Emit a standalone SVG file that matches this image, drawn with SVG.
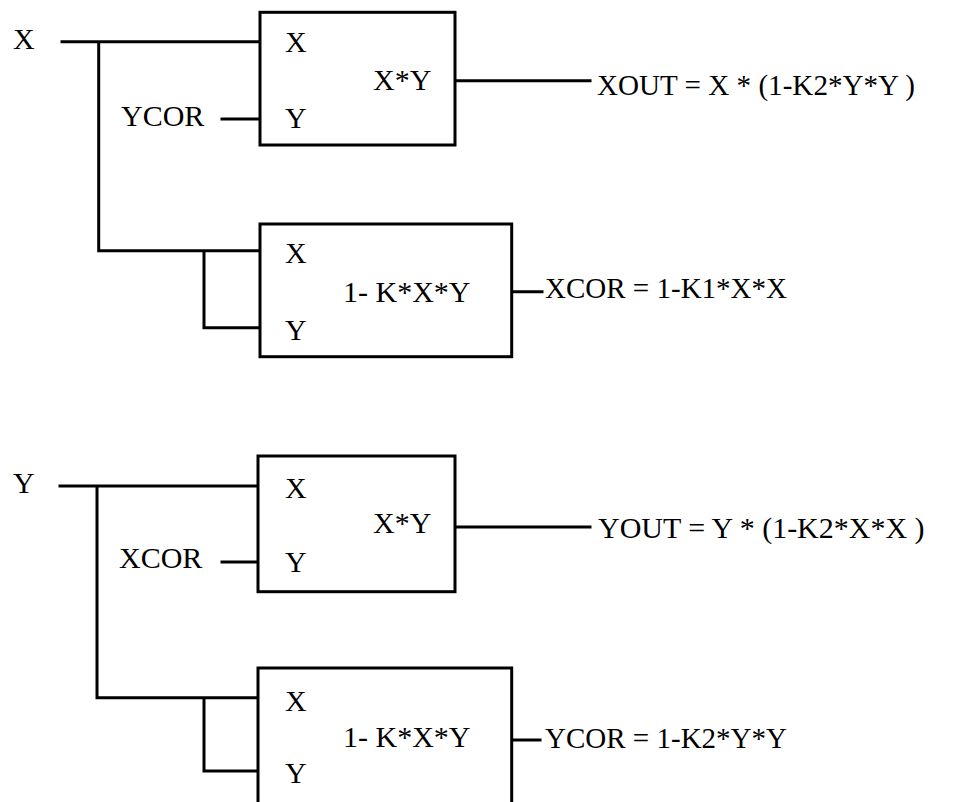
<svg xmlns="http://www.w3.org/2000/svg" width="974" height="802" viewBox="0 0 974 802">
<style>
.w{stroke:#000;stroke-width:3;fill:none;stroke-linecap:square}
.b{stroke:#000;stroke-width:3;fill:#fff}
text{font-family:"Liberation Serif","Times New Roman",serif;font-size:30px;fill:#000}
</style>
<rect width="974" height="802" fill="#fff"/>
<g id="connectors">
<path class="w" d="M62 41.7H260M98.7 41.7V250.7H260M204 250.7V327.7H260M222 119H260M455 80.7H590M512 291.7H542"/>
<path class="w" d="M60 486H258M97 486V697.7H258M204 697.7V771H258M222 562H258M455 527H590M512 740H540"/>
</g>
<g id="in-x"><text x="13" y="49">X</text></g>
<g id="in-ycor"><text x="121" y="126">YCOR</text></g>
<g id="mult1">
<rect class="b" x="260" y="12.3" width="195" height="132.7"/>
<text x="285" y="52">X</text><text x="373" y="90">X*Y</text><text x="285" y="128">Y</text>
</g>
<g id="out-xout"><text x="597" y="95" textLength="318" lengthAdjust="spacingAndGlyphs">XOUT = X * (1-K2*Y*Y )</text></g>
<g id="cor1">
<rect class="b" x="260" y="224" width="251.7" height="132.7"/>
<text x="285" y="263">X</text><text x="343" y="301.7">1- K*X*Y</text><text x="285" y="340">Y</text>
</g>
<g id="out-xcor"><text x="545" y="298" textLength="242" lengthAdjust="spacingAndGlyphs">XCOR = 1-K1*X*X</text></g>
<g id="in-y"><text x="13" y="493">Y</text></g>
<g id="in-xcor"><text x="119" y="568">XCOR</text></g>
<g id="mult2">
<rect class="b" x="258" y="456" width="197" height="135.7"/>
<text x="285" y="498">X</text><text x="373" y="533">X*Y</text><text x="285" y="572">Y</text>
</g>
<g id="out-yout"><text x="598" y="538">YOUT = Y * (1-K2*X*X  )</text></g>
<g id="cor2">
<rect class="b" x="258" y="668" width="253.7" height="140"/>
<text x="285" y="710.7">X</text><text x="343" y="746.7">1- K*X*Y</text><text x="285" y="783">Y</text>
</g>
<g id="out-ycor"><text x="545" y="748" textLength="242" lengthAdjust="spacingAndGlyphs">YCOR = 1-K2*Y*Y</text></g>
</svg>
